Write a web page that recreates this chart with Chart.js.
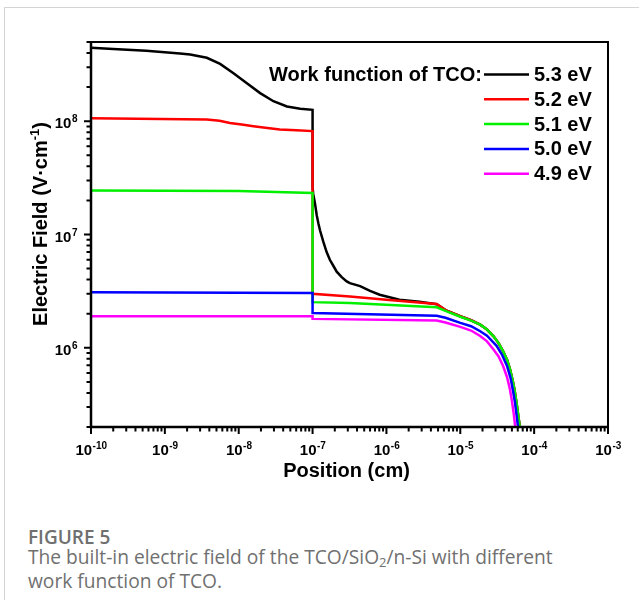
<!DOCTYPE html>
<html lang="en">
<head>
  <meta charset="UTF-8">
  <title>Built-in electric field vs. TCO work function</title>
  <script src="https://cdn.jsdelivr.net/npm/chart.js"></script>
  <style>
    body { margin: 0; background: #fff; width: 639px; height: 600px; overflow: hidden; }
    #frame {
      position: absolute; left: 4px; top: 7px; width: 700px; height: 600px;
      border-left: 1px solid #d4d4d4; border-top: 1px solid #d4d4d4;
    }
    canvas { position: absolute; left: 0; top: 0; }
    .caption { position: absolute; left: 28px; font-family: "Open Sans", sans-serif; color: #707070; white-space: nowrap; }
    #figLabel { top: 524px; font-size: 19px; font-weight: 600; }
    #figText { top: 545px; font-size: 19.2px; line-height: 23.5px; }
    #figText sub { font-size: 13px; vertical-align: -3px; line-height: 0; }
  </style>
</head>
<body>
  <div id="frame"></div>
  <canvas id="fieldChart" width="639" height="500"></canvas>
  <div class="caption" id="figLabel">FIGURE 5</div>
  <div class="caption" id="figText">The built-in electric field of the TCO/SiO<sub>2</sub>/n-Si with different<br>work function of TCO.</div>

  <script>
    // Work function of the TCO layer, one curve each
    const workFunctions = ['5.3 eV', '5.2 eV', '5.1 eV', '5.0 eV', '4.9 eV'];

    // Position (cm) and electric field (V/cm) for each curve
    const pos53 = [1e-10, 2e-10, 5.6e-10, 1.6e-9, 2.2e-9, 3.7e-9, 5.6e-9, 8.5e-9, 1.29e-8, 1.95e-8, 2.95e-8, 4.5e-8, 6.8e-8, 1e-7,
                   1e-7, 1.02e-7, 1.08e-7, 1.14e-7, 1.2e-7, 1.26e-7, 1.4e-7, 1.55e-7, 1.72e-7, 1.91e-7, 2.12e-7, 2.48e-7, 2.9e-7,
                   3.2e-7, 4.4e-7, 6e-7, 8.1e-7, 1.5e-6, 2.8e-6, 4.8e-6,
                   6.3e-6, 1e-5, 1.4e-5, 1.86e-5, 2.3e-5, 2.8e-5, 3.3e-5, 3.8e-5, 4.3e-5, 4.7e-5, 5.1e-5, 5.4e-5, 5.8e-5, 6.1e-5, 6.4e-5];
    const field53 = [4.45e8, 4.33e8, 4.18e8, 3.96e8, 3.88e8, 3.63e8, 3.2e8, 2.65e8, 2.16e8, 1.77e8, 1.5e8, 1.35e8, 1.29e8, 1.26e8,
                     2.6e7, 2.28e7, 1.87e7, 1.47e7, 1.25e7, 1.09e7, 8.6e6, 7.0e6, 5.95e6, 5.3e6, 4.7e6, 4.2e6, 3.85e6,
                     3.72e6, 3.5e6, 3.18e6, 2.94e6, 2.66e6, 2.55e6, 2.42e6,
                     2.15e6, 1.9e6, 1.75e6, 1.6e6, 1.45e6, 1.27e6, 1.1e6, 9.3e5, 7.8e5, 6.5e5, 5.2e5, 4.3e5, 3.2e5, 2.5e5, 2.0e5];

    const pos52 = [1e-10, 3.7e-9, 5.5e-9, 7.6e-9, 1.1e-8, 1.58e-8, 2.3e-8, 3.6e-8, 6e-8, 1e-7, 1e-7, 3.2e-7, 1e-6, 3e-6, 4.8e-6,
                   6.3e-6, 1e-5, 1.4e-5, 1.86e-5, 2.3e-5, 2.8e-5, 3.3e-5, 3.8e-5, 4.3e-5, 4.7e-5, 5.1e-5, 5.4e-5, 5.8e-5, 6.1e-5, 6.4e-5];
    const field52 = [1.06e8, 1.035e8, 1.01e8, 0.966e8, 0.935e8, 0.904e8, 0.875e8, 0.846e8, 0.83e8, 0.818e8, 3.0e6, 2.84e6, 2.65e6, 2.5e6, 2.44e6,
                     2.15e6, 1.9e6, 1.75e6, 1.6e6, 1.45e6, 1.27e6, 1.1e6, 9.3e5, 7.8e5, 6.5e5, 5.2e5, 4.3e5, 3.2e5, 2.5e5, 2.0e5];

    const pos51 = [1e-10, 1e-8, 1e-7, 1e-7, 3.2e-7, 4.8e-6,
                   6.3e-6, 1e-5, 1.4e-5, 1.86e-5, 2.3e-5, 2.8e-5, 3.3e-5, 3.8e-5, 4.3e-5, 4.7e-5, 5.1e-5, 5.4e-5, 5.8e-5, 6.1e-5, 6.4e-5];
    const field51 = [2.44e7, 2.42e7, 2.33e7, 2.53e6, 2.49e6, 2.28e6,
                     2.12e6, 1.88e6, 1.74e6, 1.6e6, 1.45e6, 1.27e6, 1.1e6, 9.3e5, 7.8e5, 6.5e5, 5.2e5, 4.3e5, 3.2e5, 2.5e5, 2.0e5];

    const pos50 = [1e-10, 1e-7, 1e-7, 4.8e-6, 6.3e-6, 1e-5, 1.4e-5, 1.86e-5, 2.3e-5, 3.1e-5, 3.7e-5, 4.3e-5, 4.8e-5, 5.2e-5, 5.5e-5, 5.8e-5, 6.05e-5];
    const field50 = [3.1e6, 3.04e6, 2.03e6, 1.92e6, 1.84e6, 1.66e6, 1.55e6, 1.40e6, 1.28e6, 1.04e6, 8.6e5, 6.9e5, 5.4e5, 4.1e5, 3.3e5, 2.5e5, 2.0e5];

    const pos49 = [1e-10, 1e-7, 1e-7, 4.8e-6, 6.3e-6, 1e-5, 1.4e-5, 1.86e-5, 2.3e-5, 2.8e-5, 3.3e-5, 3.8e-5, 4.3e-5, 4.7e-5, 5e-5, 5.3e-5, 5.55e-5];
    const field49 = [1.9e6, 1.9e6, 1.8e6, 1.74e6, 1.67e6, 1.53e6, 1.42e6, 1.27e6, 1.14e6, 9.7e5, 8.4e5, 6.9e5, 5.5e5, 4.3e5, 3.4e5, 2.6e5, 2.0e5];

    // Axis ranges and labelled decades
    const xRange = [1e-10, 1e-3];
    const yRange = [2e5, 5e8];
    const xDecades = [-10, -9, -8, -7, -6, -5, -4, -3];
    const yDecades = [6, 7, 8];

    const positions = [pos53, pos52, pos51, pos50, pos49];
    const fields = [field53, field52, field51, field50, field49];
    const lineColors = ['#000000', '#ff0000', '#00f000', '#0000ff', '#ff00ff'];

    const BOLD = 'Liberation Sans, Arial, sans-serif';

    // "10" with a raised exponent, anchored at (x, y) on the baseline of "10"
    function powerLabel(ctx, exp, x, y, align) {
      ctx.font = `bold 15px ${BOLD}`;
      const wBase = ctx.measureText('10').width;
      ctx.font = `bold 10px ${BOLD}`;
      const wExp = ctx.measureText(String(exp)).width;
      let left = x;
      if (align === 'center') left = x - (wBase + wExp) / 2;
      if (align === 'right') left = x - (wBase + wExp);
      ctx.textAlign = 'left';
      ctx.textBaseline = 'alphabetic';
      ctx.font = `bold 15px ${BOLD}`;
      ctx.fillText('10', left, y);
      ctx.font = `bold 10px ${BOLD}`;
      ctx.fillText(String(exp), left + wBase + 0.5, y - 6);
    }

    // Frame, log ticks, tick labels, axis titles and the legend
    const axesPlugin = {
      id: 'axesPlugin',
      afterDatasetsDraw(chart) {
        const ctx = chart.ctx;
        const { left, right, top, bottom } = chart.chartArea;
        const xs = chart.scales.x, ys = chart.scales.y;
        ctx.save();
        ctx.fillStyle = '#000';
        ctx.strokeStyle = '#000';

        // box
        ctx.lineWidth = 2;
        ctx.strokeRect(left, top, right - left, bottom - top);
        ctx.lineWidth = 2.5;
        ctx.beginPath();
        ctx.moveTo(left, top - 1);
        ctx.lineTo(left, bottom);
        ctx.lineTo(right + 1, bottom);
        ctx.stroke();

        // ticks: major at decades, minor at 2..9
        ctx.lineWidth = 2;
        ctx.beginPath();
        for (let e = -10; e <= -3; e++) {
          for (let m = 1; m <= 9; m++) {
            const v = m * Math.pow(10, e);
            if (v < xRange[0] * 0.999 || v > xRange[1] * 1.001) continue;
            const px = xs.getPixelForValue(v);
            ctx.moveTo(px, bottom);
            ctx.lineTo(px, bottom + (m === 1 ? 7 : 4.5));
          }
        }
        for (let e = 5; e <= 8; e++) {
          for (let m = 1; m <= 9; m++) {
            const v = m * Math.pow(10, e);
            if (v < yRange[0] * 0.999 || v > yRange[1] * 1.001) continue;
            const py = ys.getPixelForValue(v);
            ctx.moveTo(left, py);
            ctx.lineTo(left - (m === 1 ? 7 : 4.5), py);
          }
        }
        ctx.stroke();

        // tick labels
        xDecades.forEach(e => powerLabel(ctx, e, xs.getPixelForValue(Math.pow(10, e)), bottom + 28, 'center'));
        yDecades.forEach(e => powerLabel(ctx, e, left - 14, ys.getPixelForValue(Math.pow(10, e)) + 7, 'right'));

        // axis titles
        ctx.font = `bold 20px ${BOLD}`;
        ctx.textAlign = 'center';
        ctx.fillText('Position (cm)', (left + right) / 2 - 3, bottom + 50);

        ctx.save();
        ctx.translate(47, 224);
        ctx.rotate(-Math.PI / 2);
        const partA = 'Electric Field (V\u00b7cm';
        const partB = '-1';
        const partC = ')';
        ctx.font = `bold 20px ${BOLD}`;
        const wA = ctx.measureText(partA).width, wC = ctx.measureText(partC).width;
        ctx.font = `bold 13px ${BOLD}`;
        const wB = ctx.measureText(partB).width;
        let tx = -(wA + wB + wC) / 2;
        ctx.textAlign = 'left';
        ctx.font = `bold 20px ${BOLD}`;
        ctx.fillText(partA, tx, 0);
        ctx.font = `bold 13px ${BOLD}`;
        ctx.fillText(partB, tx + wA, -8);
        ctx.font = `bold 20px ${BOLD}`;
        ctx.fillText(partC, tx + wA + wB, 0);
        ctx.restore();

        // legend
        ctx.font = `bold 20px ${BOLD}`;
        ctx.textBaseline = 'middle';
        ctx.textAlign = 'right';
        ctx.fillText('Work function of TCO:', 482, 75);
        chart.data.datasets.forEach((ds, i) => {
          const y = 74.5 + i * 24.8;
          ctx.strokeStyle = ds.borderColor;
          ctx.lineWidth = 2.5;
          ctx.beginPath();
          ctx.moveTo(484, y);
          ctx.lineTo(529, y);
          ctx.stroke();
          ctx.textAlign = 'left';
          ctx.fillText(ds.label, 534, y + 1);
        });
        ctx.restore();
      }
    };

    const datasets = workFunctions.map((label, i) => ({
      label: label,
      data: positions[i].map((x, j) => ({ x: x, y: fields[i][j] })),
      borderColor: lineColors[i],
      borderWidth: 2.5,
      pointRadius: 0,
      tension: 0,
      fill: false,
      order: workFunctions.length - i
    }));

    const ctx = document.getElementById('fieldChart').getContext('2d');
    new Chart(ctx, {
      type: 'line',
      data: { datasets: datasets },
      options: {
        responsive: false,
        animation: false,
        devicePixelRatio: 1,
        layout: { padding: { left: 91, top: 42, right: 31, bottom: 73 } },
        scales: {
          x: { type: 'logarithmic', min: xRange[0], max: xRange[1], display: false },
          y: { type: 'logarithmic', min: yRange[0], max: yRange[1], display: false }
        },
        plugins: {
          legend: { display: false },
          tooltip: { enabled: false }
        }
      },
      plugins: [axesPlugin]
    });
  </script>
</body>
</html>
